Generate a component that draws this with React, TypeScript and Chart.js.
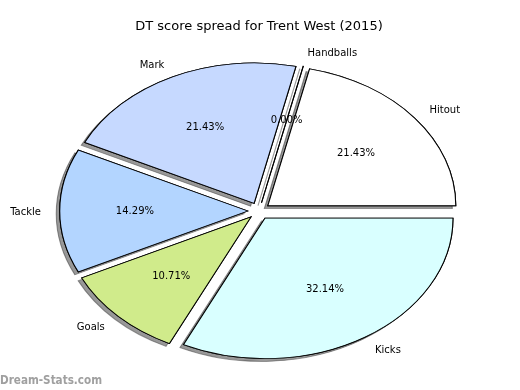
import React, { useEffect, useRef } from "react";
import { Chart, registerables } from "chart.js";

Chart.register(...registerables);

// Data in matplotlib order (counter-clockwise from 3 o'clock)
const categories = ["Hitout", "Handballs", "Mark", "Tackle", "Goals", "Kicks"];
const values = [6, 0, 6, 4, 3, 9];
const sliceColors = ["#ffffff", "#ffffff", "#c6d9ff", "#b3d5ff", "#d0eb8b", "#d9ffff"];
const chartTitle = "DT score spread for Trent West (2015)";
const watermark = "Dream-Stats.com";

const X_STRETCH = 1.338; // elliptical pie (non-equal aspect)
const EXPLODE = 0.06;
const LABEL_DIST = 1.1;
const PCT_DIST = 0.6;
const FONT = '"DejaVu Sans", "Liberation Sans", sans-serif';

const pieStylePlugin = {
  id: "mplPie",
  beforeDatasetsDraw(chart: any) {
    const ctx = chart.ctx as CanvasRenderingContext2D;
    const arcs = chart.getDatasetMeta(0).data as any[];
    if (!arcs.length) return false;
    const cx = arcs[0].x;
    const cy = arcs[0].y;
    const pass = (shadow: boolean) => {
      arcs.forEach((arc) => {
        const R = arc.outerRadius;
        const mid = (arc.startAngle + arc.endAngle) / 2;
        const e = EXPLODE * R;
        ctx.save();
        if (shadow) {
          ctx.shadowColor = "rgba(50,50,50,0.5)";
          ctx.shadowOffsetX = -3.5;
          ctx.shadowOffsetY = 2.8;
          ctx.shadowBlur = 0;
        }
        ctx.translate(cx, cy);
        ctx.scale(X_STRETCH, 1);
        ctx.translate(-cx, -cy);
        ctx.translate(Math.cos(mid) * e, Math.sin(mid) * e);
        if (arc.endAngle - arc.startAngle > 0) {
          arc.draw(ctx);
        } else {
          ctx.beginPath();
          ctx.moveTo(arc.x, arc.y);
          ctx.lineTo(arc.x + Math.cos(mid) * R, arc.y + Math.sin(mid) * R);
          ctx.lineWidth = arc.options.borderWidth;
          ctx.strokeStyle = arc.options.borderColor;
          ctx.stroke();
        }
        ctx.restore();
      });
    };
    pass(true);
    pass(false);
    return false;
  },
  afterDraw(chart: any) {
    const ctx = chart.ctx as CanvasRenderingContext2D;
    const arcs = chart.getDatasetMeta(0).data as any[];
    const labels = chart.data.labels as string[];
    const data = chart.data.datasets[0].data as number[];
    const total = data.reduce((a, b) => a + b, 0);
    if (!arcs.length) return;
    const cx = arcs[0].x;
    const cy = arcs[0].y;
    ctx.save();
    ctx.fillStyle = "#000";
    ctx.textBaseline = "middle";
    ctx.font = `10px ${FONT}`;
    arcs.forEach((arc, i) => {
      const R = arc.outerRadius;
      const mid = (arc.startAngle + arc.endAngle) / 2;
      const c = Math.cos(mid);
      const s = Math.sin(mid);
      const lr = R * (EXPLODE + LABEL_DIST);
      ctx.textAlign = c > 0 ? "left" : "right";
      ctx.fillText(labels[i], cx + X_STRETCH * lr * c, cy + lr * s + 1);
      const pr = R * (EXPLODE + PCT_DIST);
      ctx.textAlign = "center";
      ctx.fillText(((data[i] / total) * 100).toFixed(2) + "%", cx + X_STRETCH * pr * c, cy + pr * s);
    });
    ctx.font = `bold 11.6px "DejaVu Sans Condensed", "DejaVu Sans", sans-serif`;
    ctx.fillStyle = "#a0a0a0";
    ctx.textAlign = "left";
    ctx.textBaseline = "alphabetic";
    ctx.fillText(watermark, 0, 384);
    ctx.restore();
  },
};

export default function App() {
  const ref = useRef<HTMLCanvasElement | null>(null);
  useEffect(() => {
    if (!ref.current) return;
    const order = categories.map((_, i) => i).reverse();
    const chart = new Chart(ref.current, {
      type: "pie",
      data: {
        labels: order.map((i) => categories[i]),
        datasets: [
          {
            data: order.map((i) => values[i]),
            backgroundColor: order.map((i) => sliceColors[i]),
            borderColor: "#000",
            borderWidth: 0.8,
            borderJoinStyle: "miter",
            hoverOffset: 0,
            offset: 0,
          } as any,
        ],
      },
      options: {
        responsive: false,
        maintainAspectRatio: false,
        animation: false,
        rotation: 90,
        radius: 140.5,
        layout: { padding: { left: 0, right: 2, top: 0, bottom: 12.6 } },
        plugins: {
          legend: { display: false },
          tooltip: { enabled: false },
          title: {
            display: true,
            text: chartTitle,
            color: "#000",
            font: { family: FONT, size: 13, weight: "normal" },
            padding: { top: 19, bottom: 10 },
          },
        },
      } as any,
      plugins: [pieStylePlugin as any],
    });
    return () => chart.destroy();
  }, []);
  return (
    <div style={{ position: "fixed", left: 0, top: 0, width: 520, height: 390, background: "#fff" }}>
      <canvas ref={ref} width={520} height={390} />
    </div>
  );
}
